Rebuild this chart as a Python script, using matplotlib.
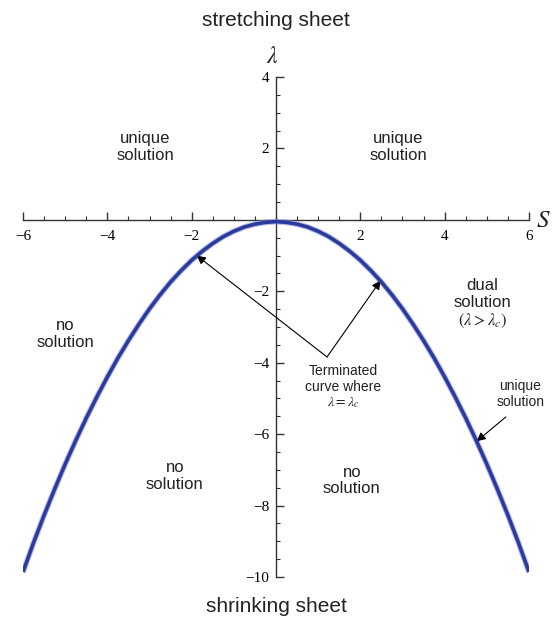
import numpy as np
import matplotlib
matplotlib.use('Agg')
import matplotlib.pyplot as plt
from matplotlib.ticker import MultipleLocator, FixedLocator

plt.rcParams['mathtext.fontset'] = 'stix'
plt.rcParams['font.family'] = ['Liberation Sans', 'DejaVu Sans']

# critical curve lambda_c(S), read point by point (symmetric about S = 0)
S_half = [0.0, 0.25, 0.5, 0.75, 1.0, 1.25, 1.5, 1.75, 2.0, 2.25, 2.5, 2.75, 3.0,
          3.25, 3.5, 3.75, 4.0, 4.25, 4.5, 4.75, 5.0, 5.25, 5.5, 5.75, 6.0]
lam_half = [-0.05, -0.07, -0.12, -0.2, -0.32, -0.47, -0.66, -0.88, -1.13, -1.42, -1.74, -2.1, -2.49,
            -2.92, -3.38, -3.87, -4.4, -4.96, -5.55, -6.18, -6.84, -7.54, -8.27, -9.04, -9.86]
S_vals = [-s for s in S_half[:0:-1]] + S_half
lam_vals = lam_half[:0:-1] + lam_half

x_ticks = [-6, -4, -2, 2, 4, 6]
y_ticks = [4, 2, -2, -4, -6, -8, -10]

fig = plt.figure(figsize=(5.52, 6.26), dpi=100)
ax = fig.add_axes([0.0417, 0.0783, 0.9166, 0.7987])
ax.set_xlim(-6, 6)
ax.set_ylim(-10, 4)

# curve with a soft halo underneath
ax.plot(S_vals, lam_vals, color='#8c98d8', lw=4.2, alpha=0.6, solid_capstyle='butt',
        solid_joinstyle='round', zorder=3)
ax.plot(S_vals, lam_vals, color='#2b3a9c', lw=2.6, solid_capstyle='butt',
        solid_joinstyle='round', zorder=4)

# axes through the origin
for side in ['top', 'right']:
    ax.spines[side].set_visible(False)
ax.spines['left'].set_position(('data', 0))
ax.spines['bottom'].set_position(('data', 0))
ax.spines['left'].set_color('#333333')
ax.spines['bottom'].set_color('#333333')
ax.spines['left'].set_linewidth(1.0)
ax.spines['bottom'].set_linewidth(1.0)

ax.xaxis.set_major_locator(FixedLocator(x_ticks))
ax.yaxis.set_major_locator(FixedLocator(y_ticks))
ax.xaxis.set_minor_locator(MultipleLocator(0.5))
ax.yaxis.set_minor_locator(MultipleLocator(0.5))
ax.set_xticklabels([str(v).replace('-', '\u2212') for v in x_ticks],
                   fontfamily='Liberation Serif', fontsize=11)
ax.set_yticklabels([str(v).replace('-', '\u2212') for v in y_ticks],
                   fontfamily='Liberation Serif', fontsize=11)
ax.tick_params(which='major', direction='in', length=6, width=1.0, color='#333333', pad=5)
ax.tick_params(which='minor', direction='in', length=3, width=0.8, color='#333333')
ax.tick_params(axis='x', which='major', pad=7)

# axis names
ax.text(6.35, 0.0, r'$S$', fontsize=18, ha='center', va='center', color='#222222')
ax.text(-0.1, 4.55, r'$\lambda$', fontsize=17, ha='center', va='center', color='#222222')

fig.text(0.5, 0.968, 'stretching sheet', fontsize=15, ha='center', va='center', color='#222222')
fig.text(0.5, 0.031, 'shrinking sheet', fontsize=15, ha='center', va='center', color='#222222')

# region labels
lab_kw = dict(fontsize=12, ha='center', va='center', color='#222222', linespacing=1.15)
ax.text(-3.1, 2.05, 'unique\nsolution', **lab_kw)
ax.text(2.9, 2.05, 'unique\nsolution', **lab_kw)
ax.text(-5.0, -3.2, 'no\nsolution', **lab_kw)
ax.text(-2.4, -7.17, 'no\nsolution', **lab_kw)
ax.text(1.8, -7.3, 'no\nsolution', **lab_kw)
ax.text(4.9, -2.35, 'dual\nsolution\n' + r'$(\lambda > \lambda_c)$', **lab_kw)

ax.text(1.6, -4.68, 'Terminated\ncurve where\n' + r'$\lambda = \lambda_c$',
        fontsize=10, ha='center', va='center', color='#222222', linespacing=1.15)
ax.text(5.8, -4.87, 'unique\nsolution', fontsize=10, ha='center', va='center',
        color='#222222', linespacing=1.15)

arrow_kw = dict(arrowstyle='-|>', color='black', lw=0.8, mutation_scale=13, shrinkA=0, shrinkB=0)
ax.annotate('', xy=(-1.88, -1.0), xytext=(1.21, -3.84), arrowprops=arrow_kw)
ax.annotate('', xy=(2.48, -1.7), xytext=(1.21, -3.84), arrowprops=arrow_kw)
ax.annotate('', xy=(4.76, -6.2), xytext=(5.45, -5.52), arrowprops=arrow_kw)

fig.savefig('out.png', dpi=100)
